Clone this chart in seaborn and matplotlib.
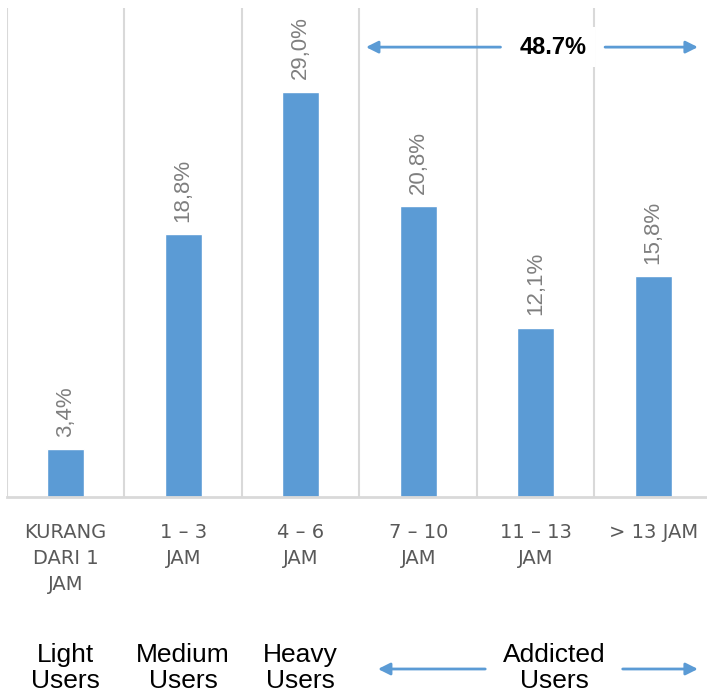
import matplotlib
matplotlib.use("Agg")
import matplotlib.pyplot as plt
import matplotlib.transforms as mtransforms
import numpy as np
import pandas as pd
import seaborn as sns

# Daily usage duration categories and share of respondents (%)
categories = ["KURANG\nDARI 1\nJAM", "1 – 3\nJAM", "4 – 6\nJAM", "7 – 10\nJAM", "11 – 13\nJAM", "> 13 JAM"]
shares = [3.4, 18.8, 29.0, 20.8, 12.1, 15.8]
share_labels = ["3,4%", "18,8%", "29,0%", "20,8%", "12,1%", "15,8%"]

# User groups shown beneath the axis
groups = ["Light\nUsers", "Medium\nUsers", "Heavy\nUsers", "Addicted\nUsers"]
addicted_from = 3  # first category counted as "Addicted"

BLUE = "#5b9bd5"
GRID = "#d9d9d9"

sns.set_theme(style="white")
plt.rcParams["font.family"] = ["Liberation Sans", "DejaVu Sans"]

df = pd.DataFrame({"durasi": categories, "persen": shares})

fig = plt.figure(figsize=(7.07, 6.98), dpi=100)
ax = fig.add_axes([7 / 707, 1 - 497 / 698, 705 / 707, 489 / 698])

sns.barplot(data=df, x="durasi", y="persen", color=BLUE, saturation=1,
            width=0.315, ax=ax)

ax.set_ylim(0, 35)
ax.set_xlim(-0.5, len(categories) - 0.5)
ax.set_xlabel("")
ax.set_ylabel("")
ax.set_yticks([])

# Category separators
ax.set_xticks(np.arange(-0.5, len(categories)), minor=True)
ax.grid(which="minor", axis="x", color=GRID, linewidth=1.5)
ax.grid(which="major", visible=False)
ax.tick_params(axis="x", which="both", length=0)
ax.set_axisbelow(True)

for side in ["top", "right", "left"]:
    ax.spines[side].set_visible(False)
ax.spines["bottom"].set_color(GRID)
ax.spines["bottom"].set_linewidth(2)

ax.tick_params(axis="x", which="major", pad=19)
for lab in ax.get_xticklabels():
    lab.set_fontfamily(["DejaVu Sans"])
    lab.set_fontsize(14)
    lab.set_color("#595959")
    lab.set_linespacing(1.45)
    lab.set_verticalalignment("top")

# Value labels above each bar
ax.bar_label(ax.containers[0], labels=share_labels, rotation=90, padding=9,
             fontsize=16, color="#7f7f7f")

# Total share of the addicted group, spanning its columns
addicted_total = sum(shares[addicted_from:])
arrow_kw = dict(arrowstyle="-|>", color=BLUE, lw=2, mutation_scale=18,
                shrinkA=0, shrinkB=0)
y_top = 32.2
ax.annotate("", xy=(2.555, y_top), xytext=(3.70, y_top),
            arrowprops=arrow_kw, annotation_clip=False)
ax.annotate("", xy=(5.38, y_top), xytext=(4.59, y_top),
            arrowprops=arrow_kw, annotation_clip=False)
ax.text(4.15, y_top, f"{addicted_total:.1f}%", ha="center", va="center",
        fontsize=17, fontweight="bold", color="black",
        bbox=dict(facecolor="white", edgecolor="none", pad=6))

# Group captions below the tick labels
trans = mtransforms.blended_transform_factory(ax.transData, fig.transFigure)
y_grp = 1 - 668 / 698
for i, g in enumerate(groups[:3]):
    ax.text(i, y_grp, g, transform=trans, ha="center", va="center",
            fontsize=19, color="black", linespacing=1.15, clip_on=False)
ax.text(4.155, y_grp, groups[3], transform=trans, ha="center", va="center",
        fontsize=19, color="black", linespacing=1.15, clip_on=False)
y_arr = 1 - 669 / 698
ax.annotate("", xy=(2.657, y_arr), xytext=(3.57, y_arr), xycoords=trans,
            textcoords=trans, arrowprops=arrow_kw, annotation_clip=False)
ax.annotate("", xy=(5.38, y_arr), xytext=(4.74, y_arr), xycoords=trans,
            textcoords=trans, arrowprops=arrow_kw, annotation_clip=False)

fig.savefig("out.png", dpi=100)
